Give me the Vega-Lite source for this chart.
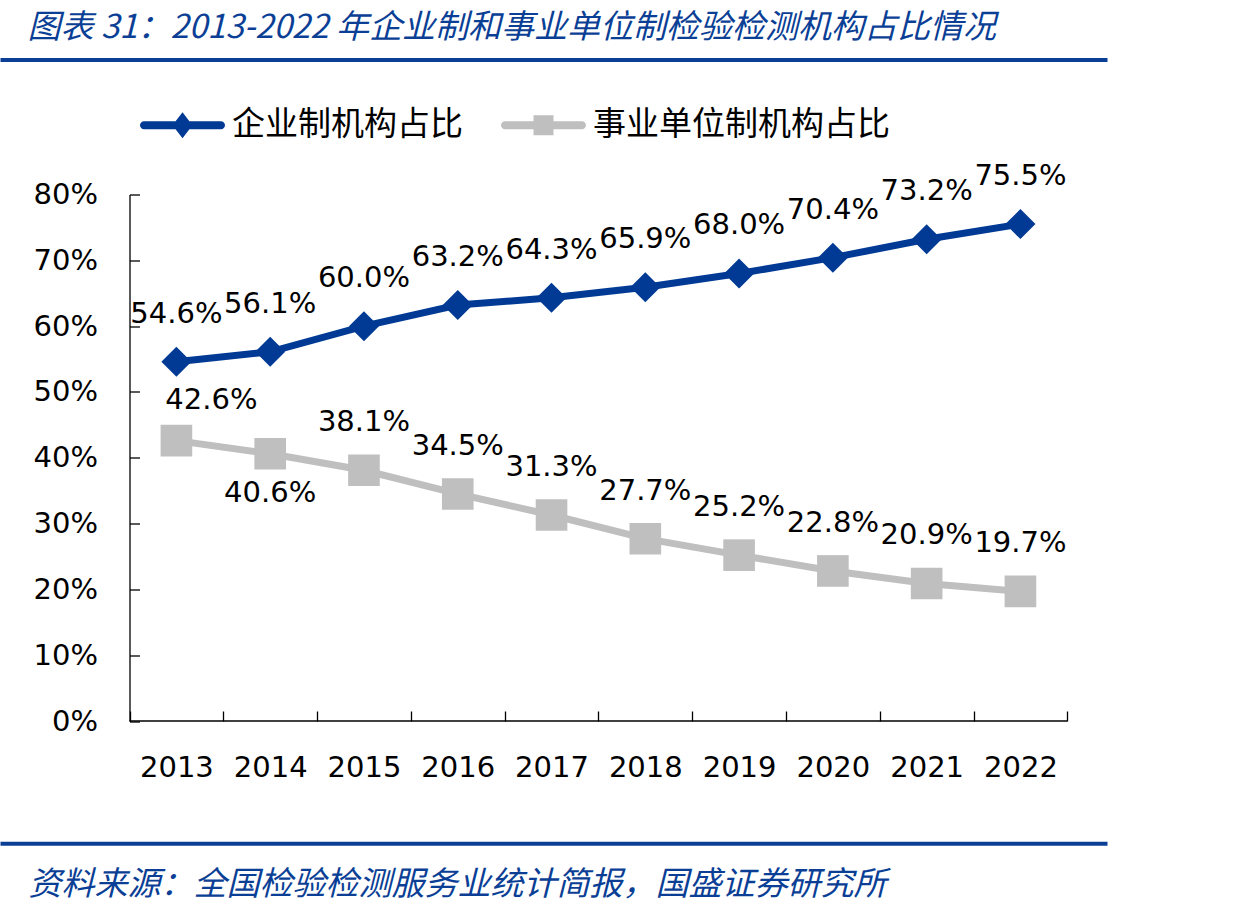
{
  "$schema": "https://vega.github.io/schema/vega-lite/v6.json",
  "width": 1107,
  "height": 526.5,
  "autosize": {"type": "none"},
  "padding": {"left": 0, "top": 194.5, "right": 127, "bottom": 193},
  "background": "white",
  "config": {"view": {"stroke": null}, "axis": {"grid": false}},
  "data": {
    "values": [
      {"year": 2013, "series": "企业制机构占比", "value": 0.546},
      {"year": 2014, "series": "企业制机构占比", "value": 0.561},
      {"year": 2015, "series": "企业制机构占比", "value": 0.600},
      {"year": 2016, "series": "企业制机构占比", "value": 0.632},
      {"year": 2017, "series": "企业制机构占比", "value": 0.643},
      {"year": 2018, "series": "企业制机构占比", "value": 0.659},
      {"year": 2019, "series": "企业制机构占比", "value": 0.680},
      {"year": 2020, "series": "企业制机构占比", "value": 0.704},
      {"year": 2021, "series": "企业制机构占比", "value": 0.732},
      {"year": 2022, "series": "企业制机构占比", "value": 0.755},
      {"year": 2013, "series": "事业单位制机构占比", "value": 0.426},
      {"year": 2014, "series": "事业单位制机构占比", "value": 0.406},
      {"year": 2015, "series": "事业单位制机构占比", "value": 0.381},
      {"year": 2016, "series": "事业单位制机构占比", "value": 0.345},
      {"year": 2017, "series": "事业单位制机构占比", "value": 0.313},
      {"year": 2018, "series": "事业单位制机构占比", "value": 0.277},
      {"year": 2019, "series": "事业单位制机构占比", "value": 0.252},
      {"year": 2020, "series": "事业单位制机构占比", "value": 0.228},
      {"year": 2021, "series": "事业单位制机构占比", "value": 0.209},
      {"year": 2022, "series": "事业单位制机构占比", "value": 0.197}
    ]
  },
  "layer": [
    {
      "mark": {"type": "point", "filled": true, "opacity": 0},
      "encoding": {
        "x": {
          "field": "year", "type": "quantitative",
          "scale": {"domain": [2011.119, 2022.923], "nice": false, "zero": false},
          "axis": null
        },
        "y": {"field": "value", "type": "quantitative", "scale": {"domain": [0, 0.8], "nice": false, "zero": true}, "axis": null},
        "shape": {
          "field": "series", "type": "nominal",
          "scale": {
            "domain": ["企业制机构占比", "事业单位制机构占比"],
            "range": [
              "M-0.906,-0.094L0.906,-0.094A0.094,0.094 0 0 1 0.906,0.094L-0.906,0.094A0.094,0.094 0 0 1 -0.906,-0.094ZM0,-0.306L0.235,0L0,0.306L-0.235,0Z",
              "M-0.906,-0.094L0.906,-0.094A0.094,0.094 0 0 1 0.906,0.094L-0.906,0.094A0.094,0.094 0 0 1 -0.906,-0.094ZM-0.235,-0.235L0.235,-0.235L0.235,0.235L-0.235,0.235Z"
            ]
          },
          "legend": {
            "orient": "none", "legendX": 140, "legendY": -112, "direction": "horizontal", "columns": 2,
            "title": null, "padding": 0, "symbolSize": 7225, "symbolStrokeWidth": 0,
            "labelFont": "Noto Sans CJK SC", "labelFontSize": 33, "labelColor": "#000000",
            "labelLimit": 500, "labelOffset": 7, "columnPadding": 37, "symbolOpacity": 1
          }
        },
        "fill": {
          "field": "series", "type": "nominal",
          "scale": {"domain": ["企业制机构占比", "事业单位制机构占比"], "range": ["#003A94", "#BFBFBF"]},
          "legend": {
            "orient": "none", "legendX": 140, "legendY": -112, "direction": "horizontal", "columns": 2,
            "title": null, "padding": 0, "symbolSize": 7225, "symbolStrokeWidth": 0,
            "labelFont": "Noto Sans CJK SC", "labelFontSize": 33, "labelColor": "#000000",
            "labelLimit": 500, "labelOffset": 7, "columnPadding": 37, "symbolOpacity": 1
          }
        }
      }
    },
    {
      "mark": {"type": "line", "strokeWidth": 7},
      "encoding": {
        "x": {
          "field": "year", "type": "quantitative",
          "axis": {
            "orient": "bottom", "values": [2013, 2014, 2015, 2016, 2017, 2018, 2019, 2020, 2021, 2022],
            "format": "d", "ticks": false, "domain": false, "title": null,
            "labelFont": "DejaVu Sans", "labelFontSize": 29, "labelColor": "#000000",
            "labelBaseline": "middle", "labelPadding": 46, "labelFlush": false, "labelOverlap": false
          }
        },
        "y": {
          "field": "value", "type": "quantitative",
          "axis": {
            "orient": "left", "offset": -129.5, "format": ".0%",
            "values": [0, 0.1, 0.2, 0.3, 0.4, 0.5, 0.6, 0.7, 0.8],
            "title": null, "domain": true, "domainColor": "#000000", "domainWidth": 1.3,
            "ticks": true, "tickColor": "#000000", "tickWidth": 1.3, "tickSize": -10,
            "labelFont": "DejaVu Sans", "labelFontSize": 29, "labelColor": "#000000",
            "labelPadding": 42, "labelFlush": false, "labelOverlap": false
          }
        },
        "color": {
          "field": "series", "type": "nominal",
          "scale": {"domain": ["企业制机构占比", "事业单位制机构占比"], "range": ["#003A94", "#BFBFBF"]},
          "legend": null
        }
      }
    },
    {
      "transform": [{"filter": "datum.series === '企业制机构占比'"}],
      "mark": {"type": "point", "shape": "diamond", "filled": true, "size": 900, "color": "#003A94", "opacity": 1},
      "encoding": {
        "x": {
          "field": "year", "type": "quantitative",
          "axis": {
            "orient": "bottom", "values": [2012.5, 2013.5, 2014.5, 2015.5, 2016.5, 2017.5, 2018.5, 2019.5, 2020.5, 2021.5, 2022.5],
            "labels": false, "domain": false, "title": null,
            "ticks": true, "tickSize": -10, "tickColor": "#000000", "tickWidth": 1.3
          }
        },
        "y": {"field": "value", "type": "quantitative", "axis": null}
      }
    },
    {
      "transform": [{"filter": "datum.series === '事业单位制机构占比'"}],
      "mark": {"type": "point", "shape": "square", "filled": true, "size": 1000, "color": "#BFBFBF", "opacity": 1},
      "encoding": {
        "x": {
          "field": "year", "type": "quantitative",
          "axis": {
            "orient": "top", "offset": 135, "labels": false, "ticks": false,
            "domain": true, "domainColor": "#0B3F96", "domainWidth": 4,
            "title": "图表 31：2013-2022 年企业制和事业单位制检验检测机构占比情况",
            "titleX": 27, "titleY": -22, "titleAlign": "left", "titleAnchor": null,
            "titleBaseline": "alphabetic", "titleAngle": 0,
            "titleFont": "Noto Sans CJK SC", "titleFontSize": 33, "titleFontStyle": "italic",
            "titleFontWeight": "normal", "titleColor": "#0B3F96", "titleLimit": 1200
          }
        },
        "y": {"field": "value", "type": "quantitative", "axis": null}
      }
    },
    {
      "transform": [{"filter": "!(datum.series === '事业单位制机构占比' && (datum.year === 2013 || datum.year === 2014))"}],
      "mark": {"type": "text", "font": "DejaVu Sans", "fontSize": 29, "color": "#000000", "baseline": "alphabetic", "dy": -39},
      "encoding": {
        "x": {
          "field": "year", "type": "quantitative",
          "axis": {
            "orient": "bottom", "offset": 122.3, "labels": false, "ticks": false,
            "domain": true, "domainColor": "#0B3F96", "domainWidth": 4,
            "title": "资料来源：全国检验检测服务业统计简报，国盛证券研究所",
            "titleX": 28, "titleY": 51, "titleAlign": "left", "titleAnchor": null,
            "titleBaseline": "alphabetic", "titleAngle": 0,
            "titleFont": "Noto Sans CJK SC", "titleFontSize": 33, "titleFontStyle": "italic",
            "titleFontWeight": "normal", "titleColor": "#0B3F96", "titleLimit": 1200
          }
        },
        "y": {"field": "value", "type": "quantitative", "axis": null},
        "text": {"field": "value", "type": "quantitative", "format": ".1%"}
      }
    },
    {
      "transform": [{"filter": "datum.series === '事业单位制机构占比' && datum.year === 2013"}],
      "mark": {"type": "text", "font": "DejaVu Sans", "fontSize": 29, "color": "#000000", "baseline": "alphabetic", "dx": 35, "dy": -32},
      "encoding": {
        "x": {"field": "year", "type": "quantitative", "axis": null},
        "y": {"field": "value", "type": "quantitative", "axis": null},
        "text": {"field": "value", "type": "quantitative", "format": ".1%"}
      }
    },
    {
      "transform": [{"filter": "datum.series === '事业单位制机构占比' && datum.year === 2014"}],
      "mark": {"type": "text", "font": "DejaVu Sans", "fontSize": 29, "color": "#000000", "baseline": "alphabetic", "dy": 48},
      "encoding": {
        "x": {"field": "year", "type": "quantitative", "axis": null},
        "y": {"field": "value", "type": "quantitative", "axis": null},
        "text": {"field": "value", "type": "quantitative", "format": ".1%"}
      }
    },
    {
      "data": {"values": [{}]},
      "mark": {"type": "rule", "color": "#000000", "strokeWidth": 1.3},
      "encoding": {
        "x": {"datum": 2012.5, "type": "quantitative", "axis": null},
        "x2": {"datum": 2022.5},
        "y": {"datum": 0, "type": "quantitative", "axis": null}
      }
    }
  ],
  "resolve": {"axis": {"x": "independent", "y": "independent"}}
}
